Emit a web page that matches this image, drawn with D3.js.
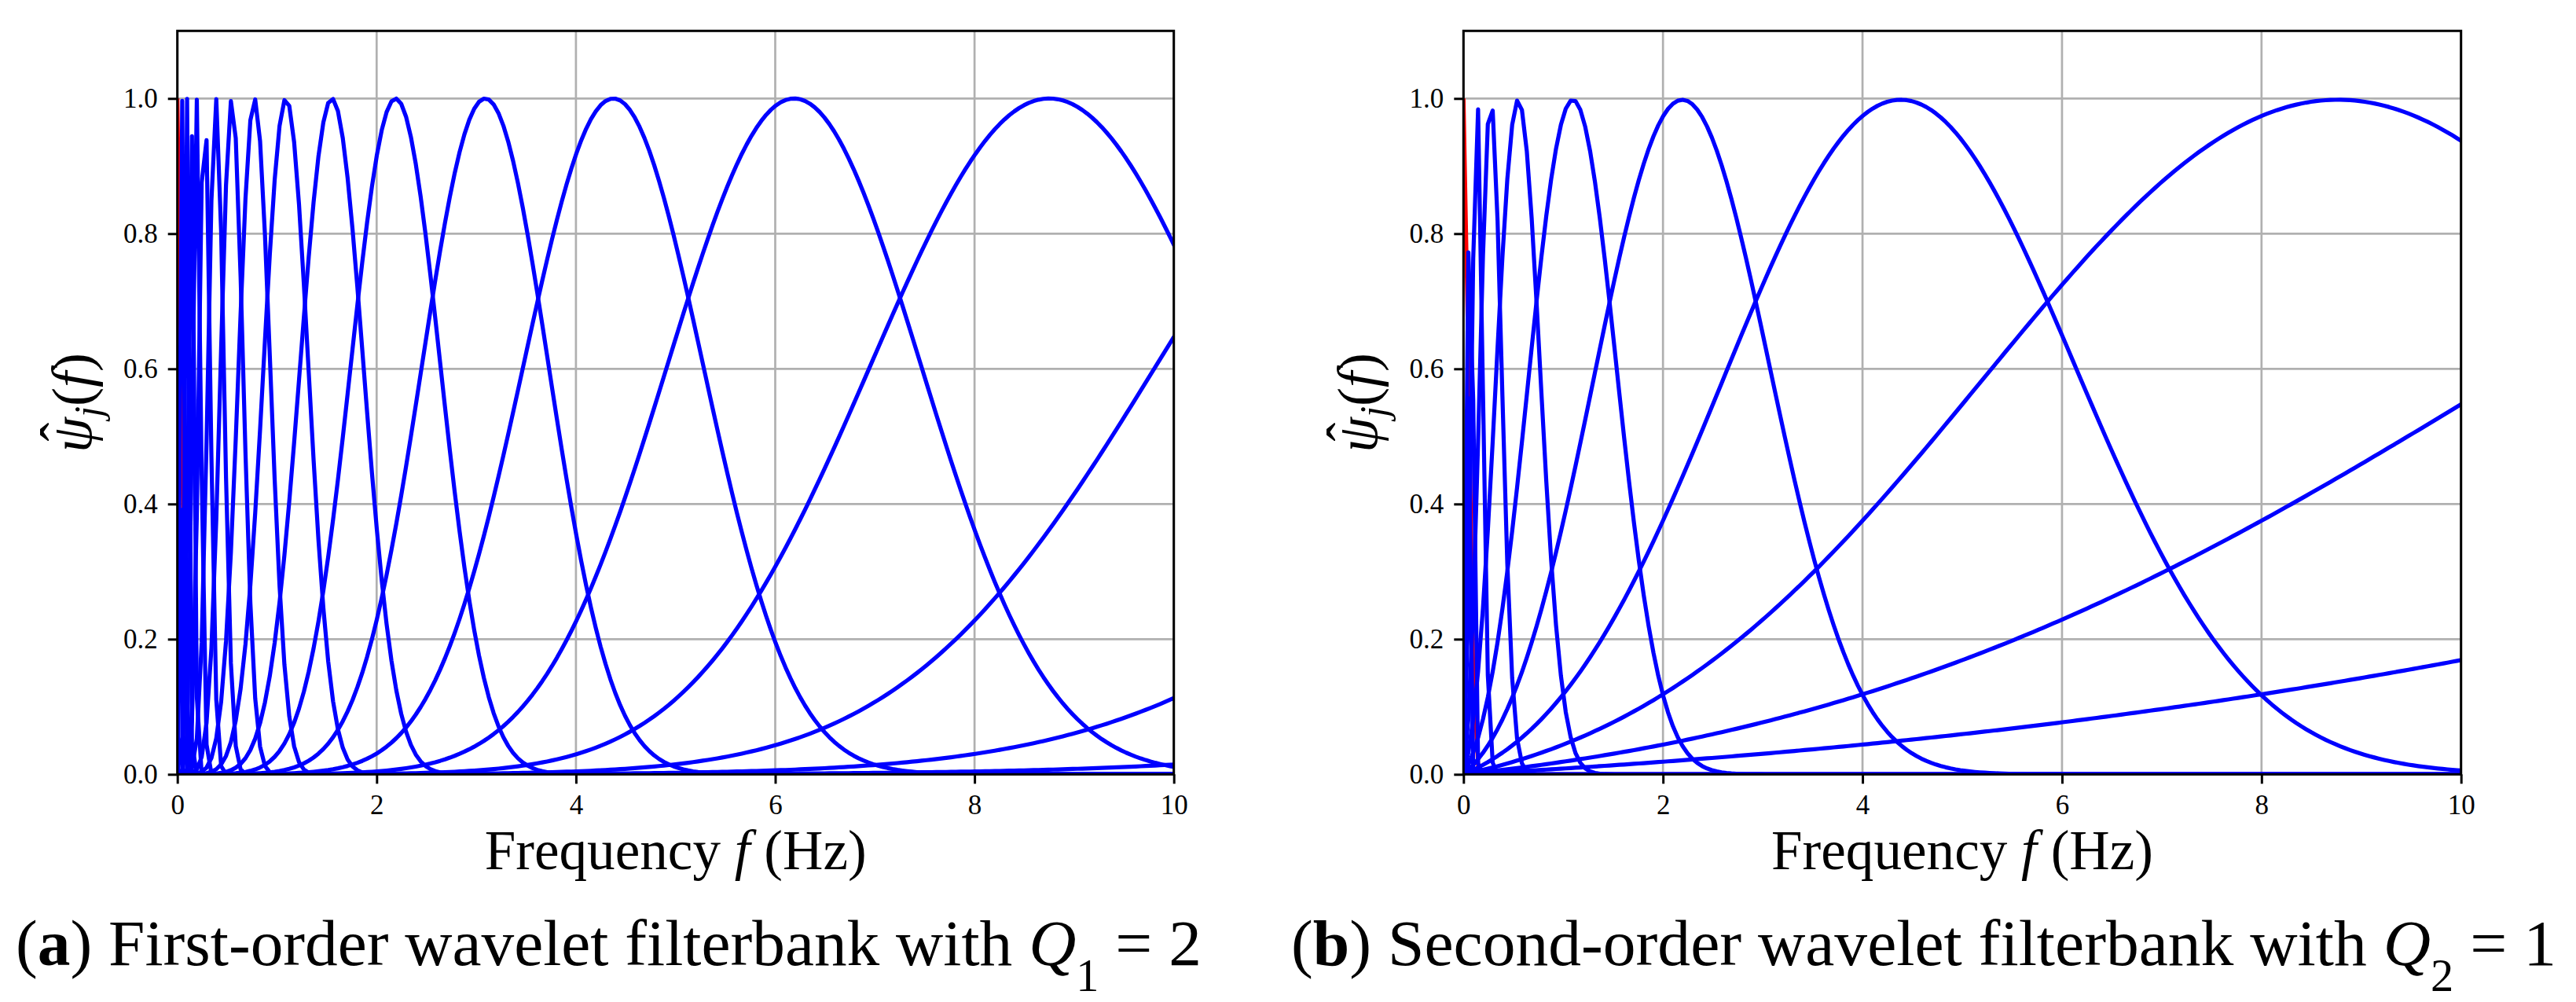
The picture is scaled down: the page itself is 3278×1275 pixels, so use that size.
<!DOCTYPE html>
<html>
<head>
<meta charset="utf-8">
<script src="https://cdn.jsdelivr.net/npm/d3@7/dist/d3.min.js"></script>
<style>
    body { margin: 0; background: #fff; }
    text { font-family: "Liberation Serif", "DejaVu Serif", serif; fill: #000; }
</style>
</head>
<body>
<svg id="chart"></svg>
<script>
/*global d3*/
"use strict";

// tick values shared by both panels
var freqTicks = [0, 2, 4, 6, 8, 10],
    ampTicks = [0, 0.2, 0.4, 0.6, 0.8, 1.0],

    centersA = [24.75, 17.5, 12.37, 8.75, 6.19, 4.375, 3.09, 2.19, 1.55, 1.09,
                0.773, 0.547, 0.387, 0.273, 0.193, 0.137, 0.097, 0.068, 0.048],
    widthsA = [5.07, 3.59, 2.54, 1.79, 1.27, 0.90, 0.634, 0.449, 0.317, 0.224,
               0.158, 0.112, 0.079, 0.056, 0.040, 0.028, 0.020, 0.014, 0.010],

    // panel (b)
    centersB = [35, 17.5, 8.75, 4.375, 2.19, 1.094, 0.547, 0.273, 0.137, 0.068, 0.034],
    widthsB = [14, 7, 3.5, 1.75, 0.875, 0.4375, 0.219, 0.109, 0.0547, 0.0273, 0.0137],

    // low-pass (red) width for each panel
    lowpassWidths = [0.04, 0.05],

    captionLetters = ['a', 'b'],
    captionTexts = [') First-order wavelet filterbank with ', ') Second-order wavelet filterbank with '],
    captionQ = ['1', '2'],
    captionValues = [' = 2', ' = 1'];

(function () {
    // frequency bins of the filters (fs = 100 Hz, N = 2048)
    var freqStep = 100 / 2048,
        bins = d3.range(0, 206).map(function (k) { return k * freqStep; }),

        W = 3278,
        H = 1275,
        plotTop = 39.3,
        plotBottom = 985.3,
        lineWidth = 5.2,
        panels = [
            {left: 225.7, right: 1493.7, centers: centersA, widths: widthsA, capLeft: 20, capRight: 1529},
            {left: 1862.3, right: 3131.7, centers: centersB, widths: widthsB, capLeft: 1643, capRight: 3253}
        ],

        svg = d3.select('#chart').attr('width', W).attr('height', H),

        /**
         * Morlet wavelet in the frequency domain, with the correction term
         * that makes it vanish at f = 0.
         */
        morlet = function (f, xi, sigma) {
            var s2 = 2 * sigma * sigma,
                kappa = Math.exp(-xi * xi / s2);
            return Math.exp(-(f - xi) * (f - xi) / s2) - kappa * Math.exp(-f * f / s2);
        },

        gauss = function (f, sigma) {
            return Math.exp(-f * f / (2 * sigma * sigma));
        },

        /**
         * Scale the font so the text spans the given width.
         */
        fitText = function (sel, width) {
            var w = sel.node().getComputedTextLength(),
                fs = parseFloat(sel.attr('font-size'));
            sel.attr('font-size', fs * width / w);
        },

        styleAxis = function (a) {
            a.attr('font-family', null).attr('font-size', null);
            a.select('.domain').remove();
            a.selectAll('line').attr('stroke', '#000').attr('stroke-width', 3);
            a.selectAll('text').attr('font-size', 35);
        };

    svg.append('rect').attr('width', W).attr('height', H).attr('fill', '#fff');

    panels.forEach(function (p, i) {
        var x = d3.scaleLinear().domain([0, 10]).range([p.left, p.right]),
            y = d3.scaleLinear().domain([0, 1.1]).range([plotBottom, plotTop]),
            g = svg.append('g'),
            clipId = 'clip' + i,
            line = d3.line()
                .x(function (d) { return x(d[0]); })
                .y(function (d) { return y(d[1]); }),
            ylabelTransform = 'translate(' + (p.left - 110) + ',' + ((plotTop + plotBottom) / 2) + ') rotate(-90)',
            ylabelSize = 72,
            curves,
            xlabel,
            ylabel,
            psi,
            caption;

        g.append('clipPath').attr('id', clipId)
            .append('rect')
            .attr('x', p.left).attr('y', plotTop)
            .attr('width', p.right - p.left).attr('height', plotBottom - plotTop);

        // grid
        g.append('g').selectAll('line').data(freqTicks).join('line')
            .attr('x1', x).attr('x2', x)
            .attr('y1', plotTop).attr('y2', plotBottom)
            .attr('stroke', '#b0b0b0').attr('stroke-width', 2.7);
        g.append('g').selectAll('line').data(ampTicks).join('line')
            .attr('y1', y).attr('y2', y)
            .attr('x1', p.left).attr('x2', p.right)
            .attr('stroke', '#b0b0b0').attr('stroke-width', 2.7);

        curves = g.append('g').attr('clip-path', 'url(#' + clipId + ')');

        curves.append('path')
            .attr('d', line(bins.map(function (f) { return [f, gauss(f, lowpassWidths[i])]; })))
            .attr('fill', 'none')
            .attr('stroke', '#ff0000')
            .attr('stroke-width', lineWidth);

        curves.selectAll('path.filter').data(d3.zip(p.centers, p.widths)).join('path')
            .classed('filter', true)
            .attr('d', function (cw) {
                return line(bins.map(function (f) { return [f, morlet(f, cw[0], cw[1])]; }));
            })
            .attr('fill', 'none')
            .attr('stroke', '#0000ff')
            .attr('stroke-width', lineWidth)
            .attr('stroke-linejoin', 'round');

        // axes
        g.append('g')
            .attr('transform', 'translate(0,' + plotBottom + ')')
            .call(d3.axisBottom(x).tickValues(freqTicks).tickSize(12).tickSizeOuter(0).tickPadding(14)
                .tickFormat(d3.format('d')))
            .call(styleAxis)
            .call(function (a) { a.selectAll('text').attr('dy', '0.71em'); });

        g.append('g')
            .attr('transform', 'translate(' + p.left + ',0)')
            .call(d3.axisLeft(y).tickValues(ampTicks).tickSize(12).tickSizeOuter(0).tickPadding(13)
                .tickFormat(d3.format('.1f')))
            .call(styleAxis);

        g.append('rect')
            .attr('x', p.left).attr('y', plotTop)
            .attr('width', p.right - p.left).attr('height', plotBottom - plotTop)
            .attr('fill', 'none').attr('stroke', '#000').attr('stroke-width', 3);

        // axis labels
        xlabel = g.append('text')
            .attr('x', (p.left + p.right) / 2).attr('y', 1106)
            .attr('text-anchor', 'middle')
            .attr('font-size', 64);
        xlabel.append('tspan').text('Frequency ');
        xlabel.append('tspan').attr('font-style', 'italic').text('f');
        xlabel.append('tspan').text(' (Hz)');
        fitText(xlabel, 486);

        ylabel = g.append('text')
            .attr('transform', ylabelTransform)
            .attr('text-anchor', 'middle')
            .attr('font-size', ylabelSize);
        ylabel.append('tspan').attr('font-style', 'italic').text('\u03c8');
        ylabel.append('tspan').attr('font-style', 'italic').attr('font-size', ylabelSize * 0.7)
            .attr('baseline-shift', '-0.25em').text('j');
        ylabel.append('tspan').text('(');
        ylabel.append('tspan').attr('font-style', 'italic').text('f');
        ylabel.append('tspan').text(')');

        // the hat over psi, placed from the glyph's own extent
        psi = ylabel.node().getExtentOfChar(0);
        g.append('text')
            .attr('transform', ylabelTransform)
            .attr('x', psi.x + psi.width * 0.58)
            .attr('y', -ylabelSize * 0.2)
            .attr('text-anchor', 'middle')
            .attr('font-size', ylabelSize)
            .text('\u02c6');

        // sub-figure caption
        caption = svg.append('text')
            .attr('x', p.capLeft).attr('y', 1228)
            .attr('font-size', 72);
        caption.append('tspan').text('(');
        caption.append('tspan').attr('font-weight', 'bold').text(captionLetters[i]);
        caption.append('tspan').text(captionTexts[i]);
        caption.append('tspan').attr('font-style', 'italic').text('Q');
        caption.append('tspan').attr('font-size', '0.7em').attr('baseline-shift', 'sub').text(captionQ[i]);
        caption.append('tspan').text(captionValues[i]);
        fitText(caption, p.capRight - p.capLeft);
    });
}());
</script>
</body>
</html>
